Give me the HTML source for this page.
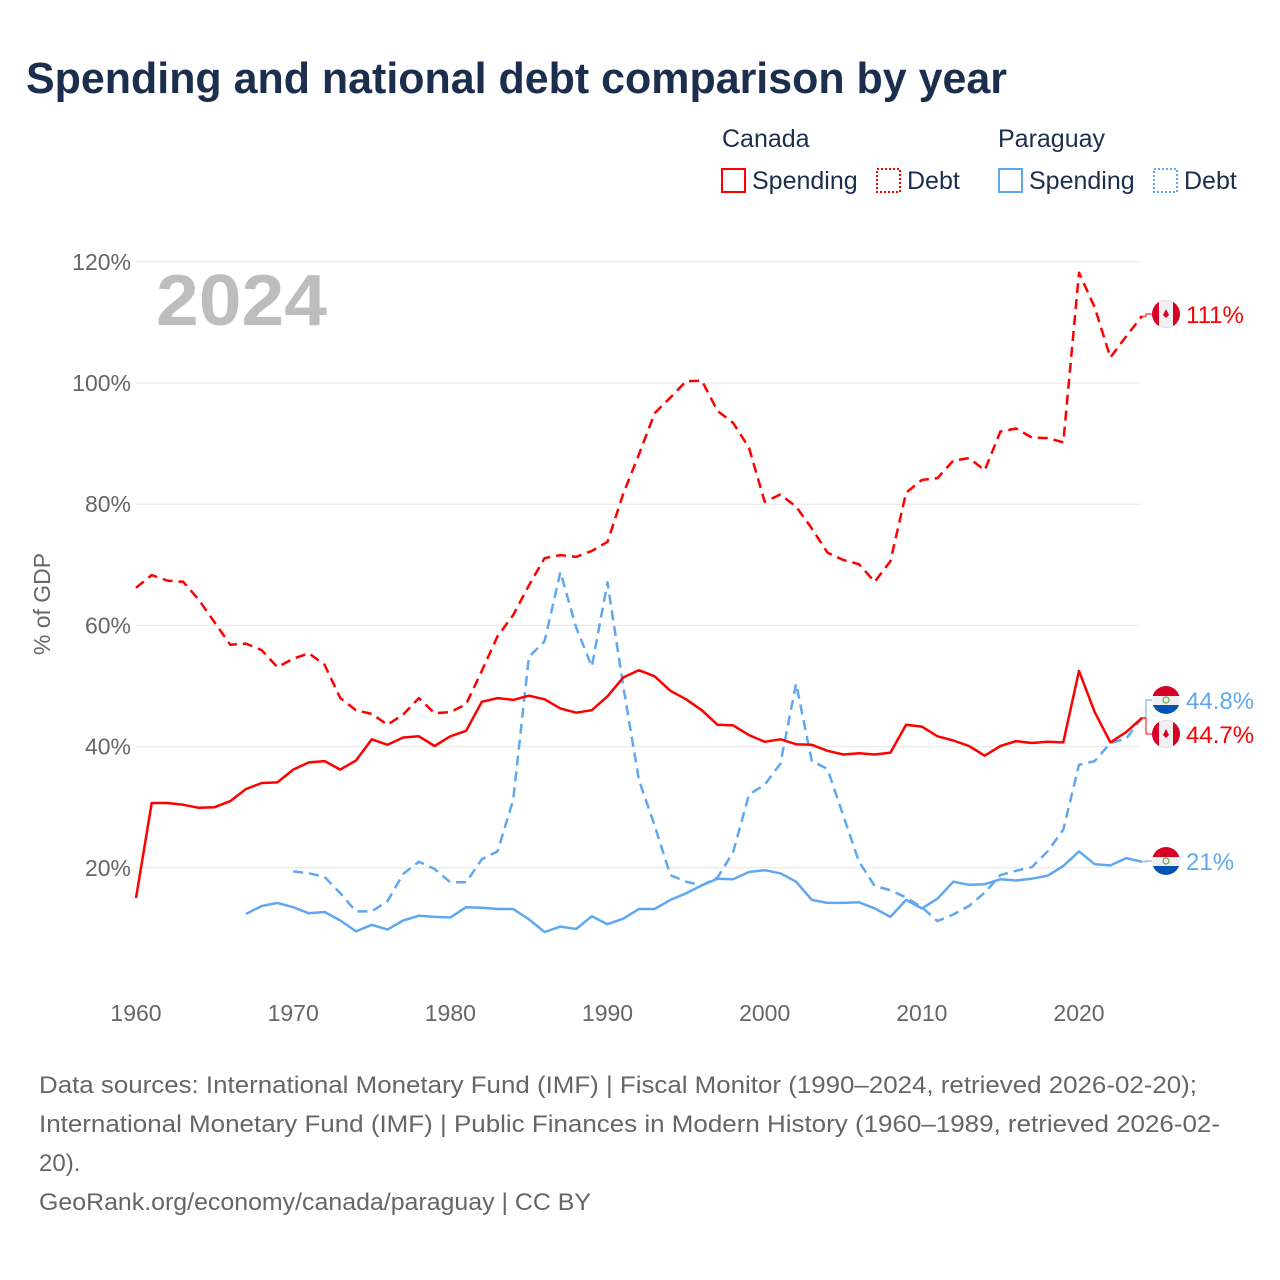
<!DOCTYPE html>
<html><head><meta charset="utf-8">
<style>
body{margin:0;background:#fff;}
svg{display:block;font-family:"Liberation Sans",sans-serif;}
</style></head>
<body>
<svg id="chart" width="1280" height="1280" viewBox="0 0 1280 1280" xmlns="http://www.w3.org/2000/svg">
<text x="26" y="93" font-size="44" font-weight="bold" fill="#1b2e4e" textLength="981" lengthAdjust="spacingAndGlyphs">Spending and national debt comparison by year</text>
<g font-size="25" fill="#1b2e4e">
<text x="722" y="147">Canada</text>
<text x="998" y="147">Paraguay</text>
<g><rect x="722" y="169" width="23" height="23" fill="none" stroke="#ff0000" stroke-width="2"/><text x="752" y="189">Spending</text></g>
<g><rect x="877" y="169" width="23" height="23" fill="none" stroke="#ff0000" stroke-width="2" stroke-dasharray="2,2"/><text x="907" y="189">Debt</text></g>
<g><rect x="999" y="169" width="23" height="23" fill="none" stroke="#5fa8ef" stroke-width="2"/><text x="1029" y="189">Spending</text></g>
<g><rect x="1154" y="169" width="23" height="23" fill="none" stroke="#5fa8ef" stroke-width="2" stroke-dasharray="2,2"/><text x="1184" y="189">Debt</text></g>
</g>
<text x="156" y="325" font-size="72" font-weight="bold" fill="#bdbdbd" textLength="171" lengthAdjust="spacingAndGlyphs">2024</text>
<text transform="translate(50,604) rotate(-90)" text-anchor="middle" font-size="23" fill="#666">% of GDP</text>
<g id="grid"></g>
<g id="series"></g>
<g id="labels"></g>
<g font-size="24" fill="#666">
<text x="39" y="1093" textLength="1158" lengthAdjust="spacingAndGlyphs">Data sources: International Monetary Fund (IMF) | Fiscal Monitor (1990–2024, retrieved 2026-02-20);</text>
<text x="39" y="1132" textLength="1181" lengthAdjust="spacingAndGlyphs">International Monetary Fund (IMF) | Public Finances in Modern History (1960–1989, retrieved 2026-02-</text>
<text x="39" y="1171">20).</text>
<text x="39" y="1210" textLength="552" lengthAdjust="spacingAndGlyphs">GeoRank.org/economy/canada/paraguay | CC BY</text>
</g>
</svg>
<script>
const yTicks=[20,40,60,80,100,120];
const xTicks=[1960,1970,1980,1990,2000,2010,2020];
const caSpendStart=1960;
const caSpend=[15,30.7,30.7,30.4,29.9,30,31,33,34,34.1,36.2,37.4,37.6,36.2,37.7,41.2,40.3,41.5,41.7,40.1,41.7,42.6,47.4,48,47.7,48.4,47.8,46.3,45.6,46,48.3,51.4,52.6,51.6,49.2,47.8,46,43.6,43.5,41.9,40.8,41.2,40.4,40.3,39.3,38.7,38.9,38.7,39,43.6,43.3,41.7,41,40.1,38.5,40.1,40.9,40.6,40.8,40.7,52.5,45.7,40.7,42.4,44.7];
const caDebtStart=1960;
const caDebt=[66.2,68.3,67.4,67.2,64.2,60.5,56.8,57,55.9,53.1,54.5,55.4,53.5,48,46,45.4,43.6,45.3,48,45.5,45.7,47,52.5,58.2,61.7,66.6,71.1,71.6,71.3,72.3,73.8,81.7,88.2,95,97.6,100.3,100.4,95.4,93.4,89.3,80.4,81.6,79.6,76,72,70.8,70.1,67.2,70.6,81.9,84,84.3,87.2,87.6,85.6,92,92.5,91,90.9,90.2,118.2,112.5,104.2,107.7,111];
const pySpendStart=1967;
const pySpend=[12.4,13.7,14.2,13.5,12.5,12.7,11.3,9.5,10.6,9.8,11.3,12.1,11.9,11.8,13.5,13.4,13.2,13.2,11.5,9.4,10.3,9.9,12,10.7,11.6,13.2,13.2,14.7,15.8,17.1,18.2,18.1,19.3,19.6,19.1,17.7,14.7,14.2,14.2,14.3,13.3,11.9,14.7,13.3,14.9,17.7,17.2,17.3,18.1,17.9,18.2,18.7,20.3,22.7,20.6,20.4,21.6,21];
const pyDebtStart=1970;
const pyDebt=[19.4,19.1,18.5,15.8,12.8,12.8,14.5,19,21,19.8,17.6,17.6,21.4,22.7,31.2,54.8,57.4,68.8,59.7,53.2,67.1,50,34.5,27,18.8,17.7,17.1,18.4,22.6,32.1,33.7,37.2,50.4,37.6,36.3,28.6,21,17,16.3,15.1,13.5,11.2,12.3,13.7,15.9,18.8,19.5,20.1,22.7,26.3,37,37.6,40.6,41.3,44.8];
const endLabels=["111%","44.8%","44.7%","21%"];

const NS="http://www.w3.org/2000/svg";
const xs=yr=>136+(yr-1960)*(1079-136)/60;
const ys=v=>989-v*6.06;
function mk(tag,attrs,parent){const e=document.createElementNS(NS,tag);for(const k in attrs)e.setAttribute(k,attrs[k]);parent.appendChild(e);return e;}
const grid=document.getElementById('grid');
yTicks.forEach(t=>{
  const l=mk('line',{x1:136,x2:1140,y1:ys(t),y2:ys(t),stroke:'#e6e6e6','stroke-width':1},grid);
  
  
  const tx=mk('text',{x:131,y:ys(t)+8,'text-anchor':'end','font-size':23,fill:'#666'},grid);
  tx.textContent=t+'%';
  
  
});
xTicks.forEach(t=>{
  const tx=mk('text',{x:xs(t),y:1021,'text-anchor':'middle','font-size':23,fill:'#666'},grid);
  tx.textContent=t;
  
  
});
const ser=document.getElementById('series');
function line(data,start,color,dash,name){
  const d=data.map((v,i)=>(i?'L':'M')+xs(start+i).toFixed(1)+','+ys(v).toFixed(1)).join('');
  const p=mk('path',{d:d,fill:'none',stroke:color,'stroke-width':2.5,'stroke-linejoin':'round'},ser);
  if(dash)p.setAttribute('stroke-dasharray','10,6');
  
  
}
const RED='#ff0000',BLUE='#5fa8ef';
line(pySpend,pySpendStart,BLUE,false,'paraguay-spending-line');
line(pyDebt,pyDebtStart,BLUE,true,'paraguay-debt-line');
line(caSpend,caSpendStart,RED,false,'canada-spending-line');
line(caDebt,caDebtStart,RED,true,'canada-debt-line');

const lab=document.getElementById('labels');
function flag(cy,kind,name){
  const g=mk('g',{},lab);
  
  
  const id='c'+Math.round(cy);
  const cp=mk('clipPath',{id:id},g);mk('circle',{cx:1166,cy:cy,r:14},cp);
  const gg=mk('g',{'clip-path':'url(#'+id+')'},g);
  if(kind==='ca'){
    mk('rect',{x:1152,y:cy-14,width:28,height:28,fill:'#d80027'},gg);
    mk('rect',{x:1159,y:cy-14,width:14,height:28,fill:'#f0f0f0'},gg);
    mk('path',{d:`M1166,${cy-5}L1169,${cy+1}L1166,${cy+4}L1163,${cy+1}Z`,fill:'#d80027'},gg);
  }else{
    mk('rect',{x:1152,y:cy-14,width:28,height:10,fill:'#d80027'},gg);
    mk('rect',{x:1152,y:cy-4,width:28,height:9,fill:'#f0f0f0'},gg);
    mk('rect',{x:1152,y:cy+5,width:28,height:9,fill:'#0052b4'},gg);
    mk('circle',{cx:1166,cy:cy,r:3,fill:'none',stroke:'#6da544','stroke-width':1.2},gg);
  }
}
function endLabel(v,ly,text,color,kind,name){
  const c=mk('path',{d:`M1140,${ys(v).toFixed(1)}H1146V${ly}H1152`,fill:'none',stroke:color,'stroke-width':1},lab);
  
  
  flag(ly,kind,name+'-flag');
  const t=mk('text',{x:1186,y:ly+9,'font-size':24,fill:color},lab);
  t.textContent=text;
  
  
}
endLabel(caDebt[caDebt.length-1],314,endLabels[0],RED,'ca','canada-debt-end');
endLabel(pyDebt[pyDebt.length-1],700,endLabels[1],BLUE,'py','paraguay-debt-end');
endLabel(caSpend[caSpend.length-1],734,endLabels[2],RED,'ca','canada-spending-end');
endLabel(pySpend[pySpend.length-1],861,endLabels[3],BLUE,'py','paraguay-spending-end');
</script>
</body></html>
